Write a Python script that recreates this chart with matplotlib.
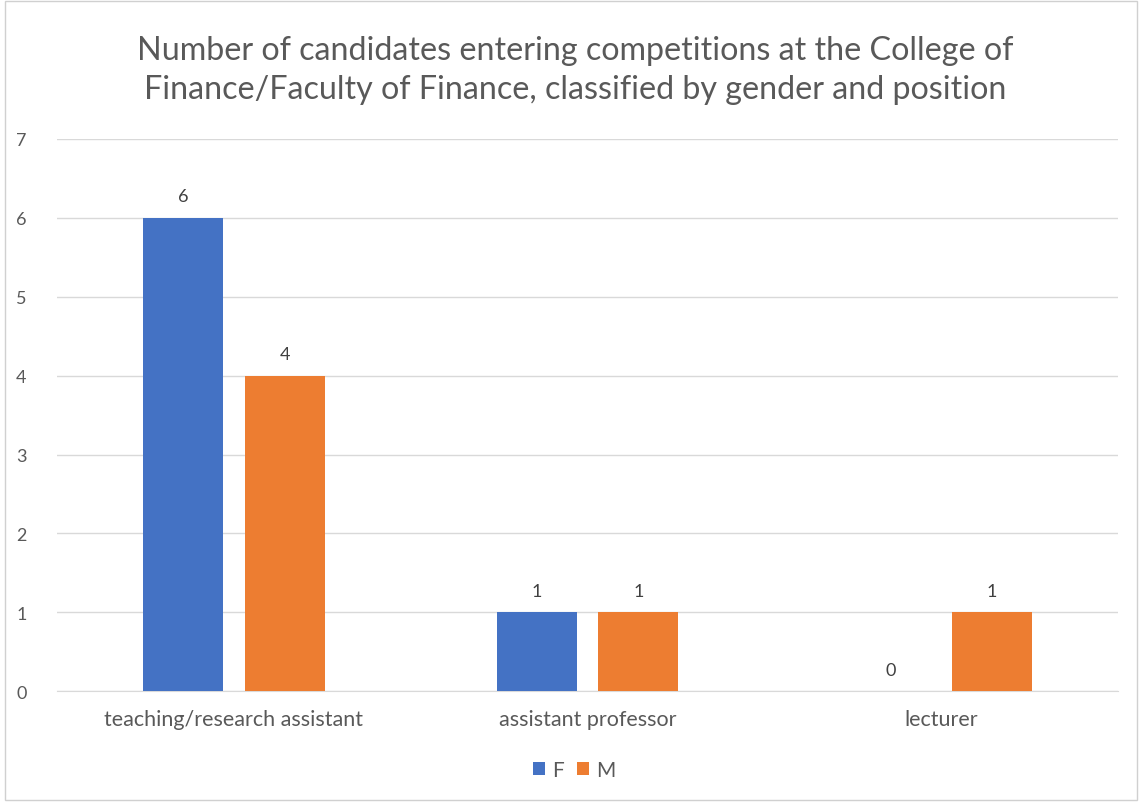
import numpy as np
import matplotlib.pyplot as plt
from matplotlib.patches import Rectangle

# data
positions = ['teaching/research assistant', 'assistant professor', 'lecturer']
female = [6, 1, 0]
male = [4, 1, 1]

title = ('Number of candidates entering competitions at the College of\n'
         'Finance/Faculty of Finance, classified by gender and position')

plt.rcParams['font.family'] = ['Lato', 'DejaVu Sans']

fig = plt.figure(figsize=(11.39, 8.03), dpi=100)
ax = fig.add_axes([0.05, 0.138, 0.9316, 0.6877])

x = np.arange(len(positions))
width = 0.226
offset = 0.144
bars_f = ax.bar(x - offset, female, width, color='#4472C4', label='F', zorder=3)
bars_m = ax.bar(x + offset, male, width, color='#ED7D31', label='M', zorder=3)

# value labels on top of each bar
for bars in (bars_f, bars_m):
    for b in bars:
        h = b.get_height()
        ax.text(b.get_x() + b.get_width() / 2, h + 0.17, '%d' % h,
                ha='center', va='bottom', fontsize=13, color='#404040')

ax.set_xlim(-0.5, 2.5)
ax.set_ylim(0, 7)
ax.set_yticks(range(0, 8))
ax.set_xticks(x)
ax.set_xticklabels(positions)
ax.tick_params(axis='both', length=0, labelcolor='#595959')
ax.tick_params(axis='x', pad=13, labelsize=15.5)
ax.tick_params(axis='y', pad=22, labelsize=13)
ax.grid(axis='y', color='#D9D9D9', linewidth=1, zorder=0)
for s in ['top', 'right', 'left']:
    ax.spines[s].set_visible(False)
ax.spines['bottom'].set_color('#D9D9D9')

fig.text(0.505, 0.912, title, ha='center', va='center', fontsize=23.2,
         color='#595959', linespacing=1.38)

fig.legend(loc='center', bbox_to_anchor=(0.504, 0.04), ncol=2, frameon=False,
           fontsize=15, handlelength=0.6, handleheight=0.6, handletextpad=0.35,
           columnspacing=0.6, labelcolor='#595959')

# thin outer border like the source chart frame
fig.patches.append(Rectangle((0.004, 0.003), 0.994, 0.994, transform=fig.transFigure,
                             fill=False, edgecolor='#D0D0D0', linewidth=1))

fig.savefig('out.png', dpi=100)
